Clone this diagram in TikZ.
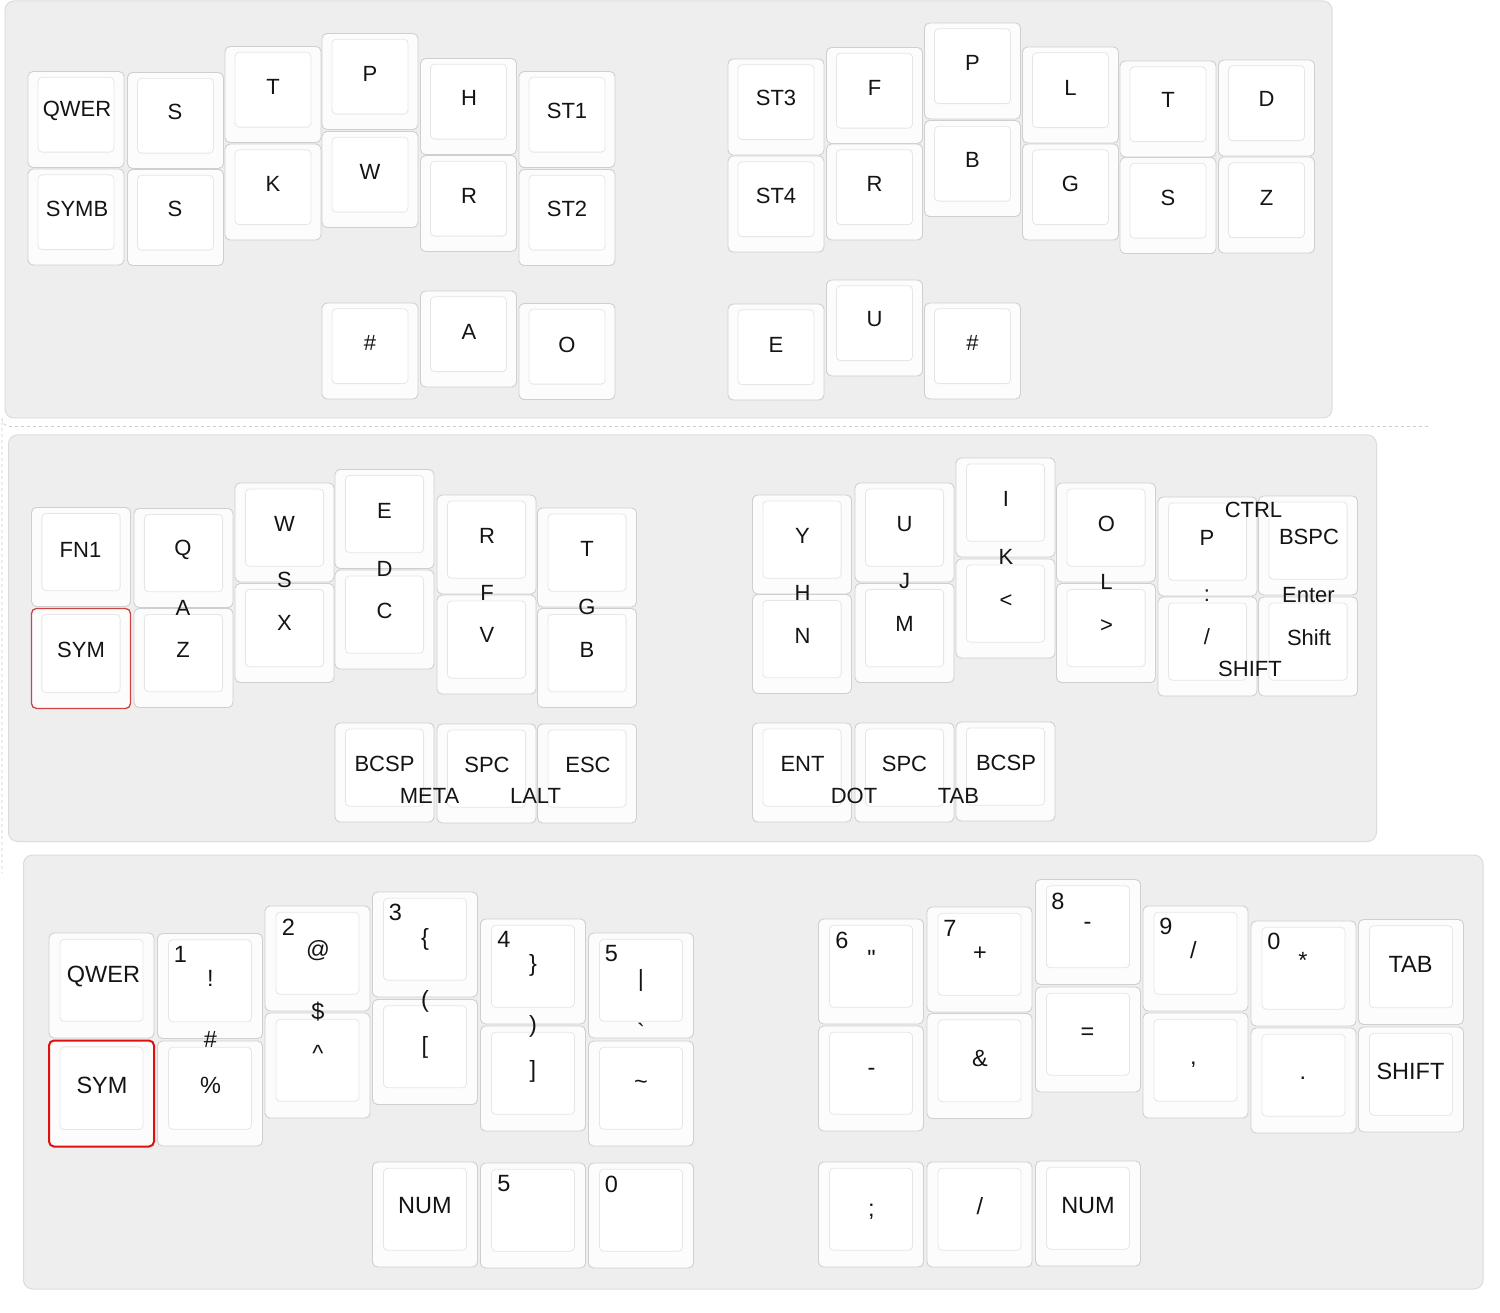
\documentclass[tikz,border=0pt]{standalone}
\usepackage{fontspec}
\newfontfamily\kf{Liberation Sans}
\definecolor{panelfill}{HTML}{EEEEEE}
\definecolor{panelline}{HTML}{DCDCDC}
\definecolor{keyline}{HTML}{CFCFCF}
\definecolor{keyfill}{HTML}{FCFCFC}
\definecolor{innerline}{HTML}{E6E6E6}
\definecolor{innerfill}{HTML}{FFFFFF}
\definecolor{redA}{HTML}{CC4444}
\definecolor{redB}{HTML}{E01010}
\definecolor{dashc}{HTML}{CCCCCC}
\newcommand\mykey[5][keyo]{%
 \pgfmathsetmacro\kxb{#2+#4}\pgfmathsetmacro\kyb{#3+#5}%
 \pgfmathsetmacro\ixa{#2+0.105*#4}\pgfmathsetmacro\ixb{#2+0.895*#4}%
 \pgfmathsetmacro\iya{#3+0.06*#5}\pgfmathsetmacro\iyb{#3+0.84*#5}%
 \draw[#1] (#2,#3) rectangle (\kxb,\kyb);
 \draw[keyi] (\ixa,\iya) rectangle (\ixb,\iyb);}
\tikzset{
 keyo/.style={draw=keyline, fill=keyfill, rounded corners=5pt, line width=0.9pt},
 keyi/.style={draw=innerline, fill=innerfill, rounded corners=4pt, line width=0.8pt},
 redo/.style={keyo, draw=redA, line width=1.3pt},
 redt/.style={keyo, draw=redB, line width=2pt},
 panel/.style={draw=panelline, fill=panelfill, rounded corners=9pt, line width=1pt},
 lbl/.style={inner sep=0pt, font=\kf\fontsize{22}{26}\selectfont, text=black!92},
 lblb/.style={inner sep=0pt, font=\kf\fontsize{23.5}{28}\selectfont, text=black!92},
 dashframe/.style={draw=dashc, dash pattern=on 3pt off 3pt, line width=0.8pt}
}
\begin{document}
\begin{tikzpicture}[x=1pt,y=-1pt]
\useasboundingbox[fill=white] (0,0) rectangle (1500,1313);
% ---------- panels ----------
\draw[dashframe] (1428,426.5) -- (10,426.5) arc[start angle=90, end angle=180, radius=8] -- (2,873);
\draw[panel] (5,1) rectangle (1332,418);
\draw[panel] (8.5,435) rectangle (1376.5,841.5);
\draw[panel] (23.5,855) rectangle (1483,1289);
% ---------- top panel keys ----------
\mykey{28}{71.5}{96}{96}  \mykey{28}{169}{96}{96}
\mykey{127.5}{72.5}{96}{96} \mykey{127.5}{169.5}{96}{96}
\mykey{225}{46.5}{96}{96} \mykey{225}{144}{96}{96}
\mykey{322}{33.5}{96}{96} \mykey{322}{131.5}{96}{96}
\mykey{420.5}{58.5}{96}{96} \mykey{420.5}{155.5}{96}{96}
\mykey{519}{71.5}{96}{96} \mykey{519}{169.5}{96}{96}
\mykey{322}{303}{96}{96} \mykey{420.5}{291}{96}{96} \mykey{519}{303.5}{96}{96}
\mykey{728}{59}{96}{96} \mykey{728}{156}{96}{96}
\mykey{826.5}{47.5}{96}{96} \mykey{826.5}{144}{96}{96}
\mykey{924.5}{23}{96}{96} \mykey{924.5}{120.5}{96}{96}
\mykey{1022.5}{47}{96}{96} \mykey{1022.5}{144}{96}{96}
\mykey{1120}{61}{96}{96} \mykey{1120}{157.5}{96}{96}
\mykey{1218.5}{60}{96}{96} \mykey{1218.5}{157}{96}{96}
\mykey{728}{304}{96}{96} \mykey{826.5}{280}{96}{96} \mykey{924.5}{303}{96}{96}
% ---------- middle panel keys ----------
\mykey{31.5}{507.5}{99}{99} \mykey[redo]{31.5}{608.5}{99}{100}
\mykey{134}{508.5}{99}{99} \mykey{134}{608.5}{99}{99}
\mykey{235}{483}{99}{99} \mykey{235}{583.5}{99}{99}
\mykey{335}{469.5}{99}{99} \mykey{335}{570}{99}{99}
\mykey{437}{495}{99}{99} \mykey{437}{595}{99}{99}
\mykey{537.5}{508}{99}{99} \mykey{537.5}{608.5}{99}{99}
\mykey{335}{723}{99}{99} \mykey{437}{724}{99}{99} \mykey{537.5}{724}{99}{99}
\mykey{752.5}{495}{99}{99} \mykey{752.5}{594.5}{99}{99}
\mykey{855}{483}{99}{99} \mykey{855}{583.5}{99}{99}
\mykey{956}{458}{99}{99} \mykey{956}{559}{99}{99}
\mykey{1056.5}{483}{99}{99} \mykey{1056.5}{583.5}{99}{99}
\mykey{1158}{497}{99}{99} \mykey{1158}{597}{99}{99}
\mykey{1258.5}{496}{99}{99} \mykey{1258.5}{597}{99}{99}
\mykey{752.5}{723}{99}{99} \mykey{855}{723}{99}{99} \mykey{956}{722}{99}{99}
% ---------- bottom panel keys ----------
\mykey{49}{933}{105}{105} \mykey[redt]{49}{1040.5}{105}{106}
\mykey{157.5}{933.5}{105}{105} \mykey{157.5}{1041}{105}{105}
\mykey{265}{906}{105}{105} \mykey{265}{1013}{105}{105}
\mykey{372.5}{892}{105}{105} \mykey{372.5}{999.5}{105}{105}
\mykey{480.5}{919}{105}{105} \mykey{480.5}{1026}{105}{105}
\mykey{588.5}{933}{105}{105} \mykey{588.5}{1041}{105}{105}
\mykey{372.5}{1162}{105}{105} \mykey{480.5}{1163}{105}{105} \mykey{588.5}{1163}{105}{105}
\mykey{818.5}{919}{105}{105} \mykey{818.5}{1026}{105}{105}
\mykey{927}{907}{105}{105} \mykey{927}{1013.5}{105}{105}
\mykey{1035.5}{879.5}{105}{105} \mykey{1035.5}{987}{105}{105}
\mykey{1143}{906}{105}{105} \mykey{1143}{1013}{105}{105}
\mykey{1251}{921}{105}{105} \mykey{1251}{1028}{105}{105}
\mykey{1358.5}{919.5}{105}{105} \mykey{1358.5}{1027}{105}{105}
\mykey{818.5}{1162}{105}{105} \mykey{927}{1162}{105}{105} \mykey{1035.5}{1161}{105}{105}
% ---------- top panel labels ----------
\node[lbl] (a1) at (77,111) {QWER};
\node[lbl] (a2) at (77,209) {SYMB};
\node[lbl] (a3) at (175,112) {S};
\node[lbl] (a4) at (175,209) {S};
\node[lbl] (a5) at (273,87) {T};
\node[lbl] (a6) at (273,183.5) {K};
\node[lbl] (a7) at (370,74) {P};
\node[lbl] (a8) at (370,172) {W};
\node[lbl] (a9) at (469,98) {H};
\node[lbl] (a10) at (469,196) {R};
\node[lbl] (a11) at (567,111) {ST1};
\node[lbl] (a12) at (567,209) {ST2};
\node[lbl] (a13) at (370,343) {\#};
\node[lbl] (a14) at (469,332) {A};
\node[lbl] (a15) at (567,344.5) {O};
\node[lbl] (a16) at (776,98) {ST3};
\node[lbl] (a17) at (776,196) {ST4};
\node[lbl] (a18) at (874.5,87.5) {F};
\node[lbl] (a19) at (874.5,184) {R};
\node[lbl] (a20) at (972.5,62.5) {P};
\node[lbl] (a21) at (972.5,160) {B};
\node[lbl] (a22) at (1070.5,87.5) {L};
\node[lbl] (a23) at (1070.5,184) {G};
\node[lbl] (a24) at (1168,99.5) {T};
\node[lbl] (a25) at (1168,197.5) {S};
\node[lbl] (a26) at (1266.5,99) {D};
\node[lbl] (a27) at (1266.5,197.5) {Z};
\node[lbl] (a28) at (776,344.5) {E};
\node[lbl] (a29) at (874.5,319) {U};
\node[lbl] (a30) at (972.5,343) {\#};
% ---------- middle panel labels ----------
\node[lbl] (b1) at (80.5,549.5) {FN1};
\node[lbl] (b2) at (81,649.5) {SYM};
\node[lbl] (b3) at (183,550) {Q};
\node[lbl] (b4) at (183,607.5) {A};
\node[lbl] (b5) at (183,649.5) {Z};
\node[lbl] (b6) at (284.5,523.5) {W};
\node[lbl] (b7) at (284.5,580) {S};
\node[lbl] (b8) at (284.5,623) {X};
\node[lbl] (b9) at (384.5,511) {E};
\node[lbl] (b10) at (384.5,568.5) {D};
\node[lbl] (b11) at (384.5,611) {C};
\node[lbl] (b12) at (487,536) {R};
\node[lbl] (b13) at (487,593) {F};
\node[lbl] (b14) at (487,635) {V};
\node[lbl] (b15) at (587,548.5) {T};
\node[lbl] (b16) at (587,607) {G};
\node[lbl] (b17) at (587,649.5) {B};
\node[lbl] (b18) at (384.5,764) {BCSP};
\node[lbl] (b19) at (429.5,796) {META};
\node[lbl] (b20) at (487,764.5) {SPC};
\node[lbl] (b21) at (535.5,796) {LALT};
\node[lbl] (b22) at (588,764.5) {ESC};
\node[lbl] (b23) at (802.5,536) {Y};
\node[lbl] (b24) at (802.5,592.5) {H};
\node[lbl] (b25) at (802.5,636) {N};
\node[lbl] (b26) at (904.5,524.5) {U};
\node[lbl] (b27) at (904.5,581) {J};
\node[lbl] (b28) at (904.5,623.5) {M};
\node[lbl] (b29) at (1006,499) {I};
\node[lbl] (b30) at (1006,557) {K};
\node[lbl] (b31) at (1006,601.5) {<};
\node[lbl] (b32) at (1106.5,523.5) {O};
\node[lbl] (b33) at (1106.5,581.5) {L};
\node[lbl] (b34) at (1106.5,626.5) {>};
\node[lbl] (b35) at (1207,537.5) {P};
\node[lbl] (b36) at (1253.5,510) {CTRL};
\node[lbl] (b37) at (1309,536.5) {BSPC};
\node[lbl] (b38) at (1207,595.5) {:};
\node[lbl] (b39) at (1308.5,595.5) {Enter};
\node[lbl] (b40) at (1207,637) {/};
\node[lbl] (b41) at (1309,637.5) {Shift};
\node[lbl] (b42) at (1250,668.5) {SHIFT};
\node[lbl] (b43) at (802.5,764) {ENT};
\node[lbl] (b44) at (854,796) {DOT};
\node[lbl] (b45) at (904.5,764) {SPC};
\node[lbl] (b46) at (958.5,796) {TAB};
\node[lbl] (b47) at (1006,763) {BCSP};
% ---------- bottom panel labels ----------
\node[lblb] (c1) at (103.5,977) {QWER};
\node[lblb] (c2) at (102,1085) {SYM};
\node[lblb] (c3) at (180.5,954) {1};
\node[lblb] (c4) at (210.5,978.5) {!};
\node[lblb] (c5) at (210.5,1039.5) {\#};
\node[lblb] (c6) at (210.5,1085) {\%};
\node[lblb] (c7) at (288.5,927) {2};
\node[lblb] (c8) at (318,950.5) {@};
\node[lblb] (c9) at (318,1011.5) {\$};
\node[lblb] (c10) at (318,1053) {\textasciicircum};
\node[lblb] (c11) at (395.5,912.5) {3};
\node[lblb] (c12) at (425,939.5) {\{};
\node[lblb] (c13) at (425,1001.5) {(};
\node[lblb] (c14) at (425,1047.5) {[};
\node[lblb] (c15) at (504,939.5) {4};
\node[lblb] (c16) at (533,965) {\}};
\node[lblb] (c17) at (533,1026.5) {)};
\node[lblb] (c18) at (533,1071.5) {]};
\node[lblb] (c19) at (611.5,953.5) {5};
\node[lblb] (c20) at (641,980.5) {\textbar};
\node[lblb] (c21) at (641,1031.5) {\textasciigrave};
\node[lblb] (c22) at (641,1085) {\textasciitilde};
\node[lblb] (c23) at (425,1206) {NUM};
\node[lblb] (c24) at (504,1184) {5};
\node[lblb] (c25) at (611.5,1184) {0};
\node[lblb] (c26) at (842,940) {6};
\node[lblb] (c27) at (871.5,958.5) {"};
\node[lblb] (c28) at (871.5,1071.5) {-};
\node[lblb] (c29) at (950,928.5) {7};
\node[lblb] (c30) at (980,954) {+};
\node[lblb] (c31) at (980,1058) {\&};
\node[lblb] (c32) at (1058,901.5) {8};
\node[lblb] (c33) at (1087.5,926) {-};
\node[lblb] (c34) at (1087.5,1033.5) {=};
\node[lblb] (c35) at (1166,926.5) {9};
\node[lblb] (c36) at (1193.5,950) {/};
\node[lblb] (c37) at (1193.5,1065) {,};
\node[lblb] (c38) at (1274,941.5) {0};
\node[lblb] (c39) at (1303,960) {*};
\node[lblb] (c40) at (1303,1078) {.};
\node[lblb] (c41) at (1410.5,964.5) {TAB};
\node[lblb] (c42) at (1410.5,1071.5) {SHIFT};
\node[lblb] (c43) at (871.5,1211.5) {;};
\node[lblb] (c44) at (980,1206.5) {/};
\node[lblb] (c45) at (1088,1206) {NUM};
\end{tikzpicture}
\end{document}
